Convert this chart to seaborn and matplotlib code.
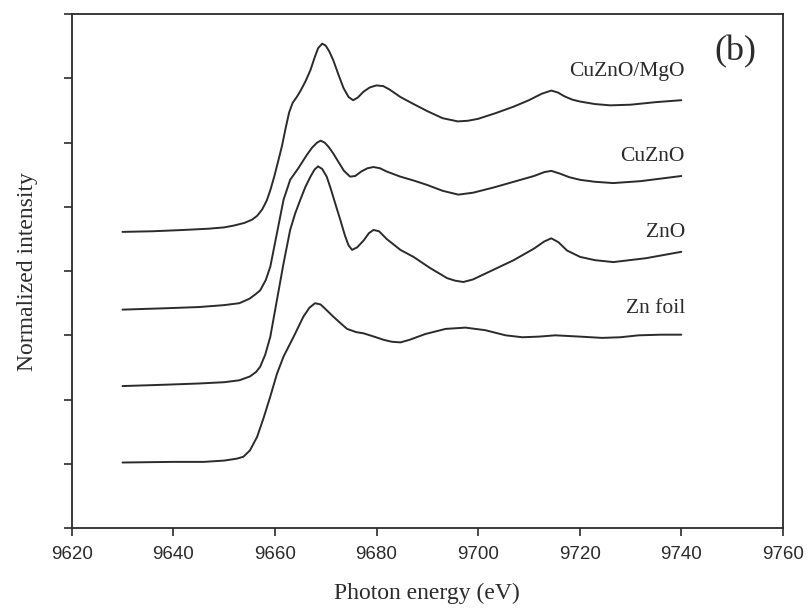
import pandas as pd
import matplotlib
matplotlib.use("Agg")
import matplotlib.pyplot as plt
import seaborn as sns

# spectres XANES (seuil K du Zn)
e_mgo = [9630, 9636, 9642, 9647, 9650, 9652, 9654, 9655.5, 9656.5, 9657.5, 9658.4, 9659.1,
         9659.9, 9660.7, 9661.4, 9662.1, 9662.8, 9663.5, 9664.3, 9665, 9666, 9667, 9667.8,
         9668.5, 9669.3, 9670, 9670.7, 9671.5, 9672.5, 9673.5, 9674.5, 9675.4, 9676.3,
         9677.4, 9678.7, 9680, 9681.3, 9682.5, 9684.7, 9687.3, 9690, 9693, 9696, 9698,
         9700, 9703.5, 9707, 9710, 9712.5, 9714.4, 9715.7, 9717, 9718.5, 9720, 9723, 9726,
         9730, 9735, 9740]
i_mgo = [4.61, 4.62, 4.64, 4.66, 4.68, 4.71, 4.75, 4.80, 4.86, 4.96, 5.10, 5.26,
         5.48, 5.73, 5.95, 6.22, 6.47, 6.62, 6.71, 6.80, 6.95, 7.13, 7.32,
         7.47, 7.54, 7.51, 7.42, 7.28, 7.06, 6.85, 6.71, 6.66, 6.70,
         6.79, 6.86, 6.89, 6.88, 6.83, 6.71, 6.60, 6.49, 6.38, 6.33, 6.34,
         6.37, 6.46, 6.56, 6.66, 6.76, 6.81, 6.78, 6.72, 6.67, 6.64, 6.60, 6.58,
         6.59, 6.63, 6.66]

e_cuzno = [9630, 9638, 9645, 9650, 9653, 9655, 9656.2, 9657.1, 9658.2, 9659.1, 9660.4,
           9661.7, 9663.0, 9664.6, 9666.3, 9667.3, 9668.3, 9669, 9669.8, 9670.6, 9671.5,
           9672.5, 9673.6, 9674.8, 9675.8, 9677, 9678.2, 9679.4, 9680.7, 9682, 9684.7,
           9687.3, 9690, 9693, 9696.1, 9699, 9703, 9707, 9711, 9713, 9714.4, 9716, 9718,
           9720.1, 9723, 9726.6, 9732, 9736, 9740]
i_cuzno = [3.40, 3.42, 3.44, 3.47, 3.50, 3.57, 3.64, 3.70, 3.86, 4.07, 4.59,
           5.11, 5.42, 5.60, 5.81, 5.92, 6.00, 6.03, 6.00, 5.93, 5.83,
           5.70, 5.56, 5.47, 5.48, 5.55, 5.60, 5.62, 5.60, 5.55, 5.47,
           5.41, 5.34, 5.25, 5.19, 5.22, 5.30, 5.39, 5.48, 5.54, 5.56, 5.52, 5.46,
           5.42, 5.39, 5.37, 5.40, 5.44, 5.48]

e_zno = [9630, 9638, 9645, 9650, 9653, 9655.1, 9656.3, 9657.1, 9658.1, 9659.1, 9660.4,
         9661.7, 9663.0, 9664, 9665.0, 9666, 9667.0, 9667.8, 9668.5, 9669.3, 9670.2,
         9671.0, 9672, 9672.9, 9673.8, 9674.5, 9675.2, 9676.2, 9677.5, 9678.5, 9679.4,
         9680.5, 9682, 9684.7, 9687.3, 9690.5, 9693.9, 9695.5, 9697.1, 9699, 9703, 9707,
         9711, 9713, 9714.4, 9715.8, 9717.5, 9720.1, 9723, 9726.6, 9733, 9740]
i_zno = [2.21, 2.23, 2.25, 2.27, 2.30, 2.36, 2.43, 2.51, 2.70, 2.98, 3.55,
         4.12, 4.64, 4.90, 5.11, 5.31, 5.47, 5.58, 5.63, 5.59, 5.47,
         5.28, 5.02, 4.79, 4.55, 4.40, 4.33, 4.37, 4.48, 4.59, 4.64,
         4.62, 4.50, 4.33, 4.22, 4.05, 3.89, 3.85, 3.83, 3.87, 4.02, 4.17,
         4.35, 4.46, 4.51, 4.45, 4.32, 4.22, 4.17, 4.14, 4.20, 4.30]

e_foil = [9630, 9640, 9646, 9650, 9652.5, 9653.8, 9655.1, 9656.5, 9657.8, 9659.1, 9660.4,
          9661.7, 9663.7, 9665.6, 9666.8, 9667.9, 9669, 9670.2, 9671.5, 9672.9, 9674.2,
          9676, 9677.5, 9679.5, 9681.4, 9683, 9684.7, 9686.5, 9689.6, 9693.6, 9697.5,
          9701.4, 9705.4, 9708.7, 9712, 9715.2, 9720, 9724.4, 9728, 9731.6, 9736, 9740]
i_foil = [1.02, 1.03, 1.03, 1.05, 1.08, 1.11, 1.21, 1.42, 1.72, 2.05, 2.40,
          2.67, 2.98, 3.29, 3.43, 3.50, 3.48, 3.39, 3.29, 3.19, 3.10,
          3.05, 3.03, 2.98, 2.93, 2.90, 2.89, 2.93, 3.02, 3.10, 3.12,
          3.08, 3.00, 2.97, 2.98, 3.00, 2.98, 2.96, 2.97, 3.00, 3.01, 3.01]

echantillons = ["CuZnO/MgO", "CuZnO", "ZnO", "Zn foil"]
energies = [e_mgo, e_cuzno, e_zno, e_foil]
intensites = [i_mgo, i_cuzno, i_zno, i_foil]
# position verticale des étiquettes
etiquettes_y = [7.10, 5.79, 4.60, 3.41]

sns.set_theme(style="ticks")
plt.rcParams["font.family"] = ["Liberation Serif", "DejaVu Serif"]

fig = plt.figure(figsize=(8.11, 6.14), dpi=100)
ax = fig.add_axes([0.0884, 0.140, 0.877, 0.837])

couleur = "#2b2b2b"
for nom, e, i in zip(echantillons, energies, intensites):
    df = pd.DataFrame({"energie": e, "intensite": i})
    sns.lineplot(data=df, x="energie", y="intensite", ax=ax, color=couleur,
                 linewidth=1.4, sort=False, estimator=None)

for nom, y in zip(echantillons, etiquettes_y):
    ax.text(9740.7, y, nom, ha="right", va="center", fontsize=15.5, color=couleur)

ax.text(9750.7, 7.41, "(b)", ha="center", va="center", fontsize=26, color=couleur)

ax.set_xlim(9620, 9760)
ax.set_ylim(0, 8)
ax.set_xticks(range(9620, 9761, 20))
ax.set_yticks(range(0, 9))
ax.set_yticklabels([])
for lab in ax.get_xticklabels():
    lab.set_fontfamily("Liberation Sans")
ax.tick_params(axis="x", direction="out", length=6, width=1.2, labelsize=13.5,
               pad=7, colors=couleur)
ax.tick_params(axis="y", direction="out", length=6, width=1.2, colors=couleur)
for sp in ax.spines.values():
    sp.set_linewidth(1.3)
    sp.set_color(couleur)

ax.set_xlabel("Photon energy (eV)", fontsize=17, labelpad=14, color=couleur)
ax.set_ylabel("Normalized intensity", fontsize=17, labelpad=15, color=couleur)

fig.savefig("out.png", dpi=100, facecolor="white")
